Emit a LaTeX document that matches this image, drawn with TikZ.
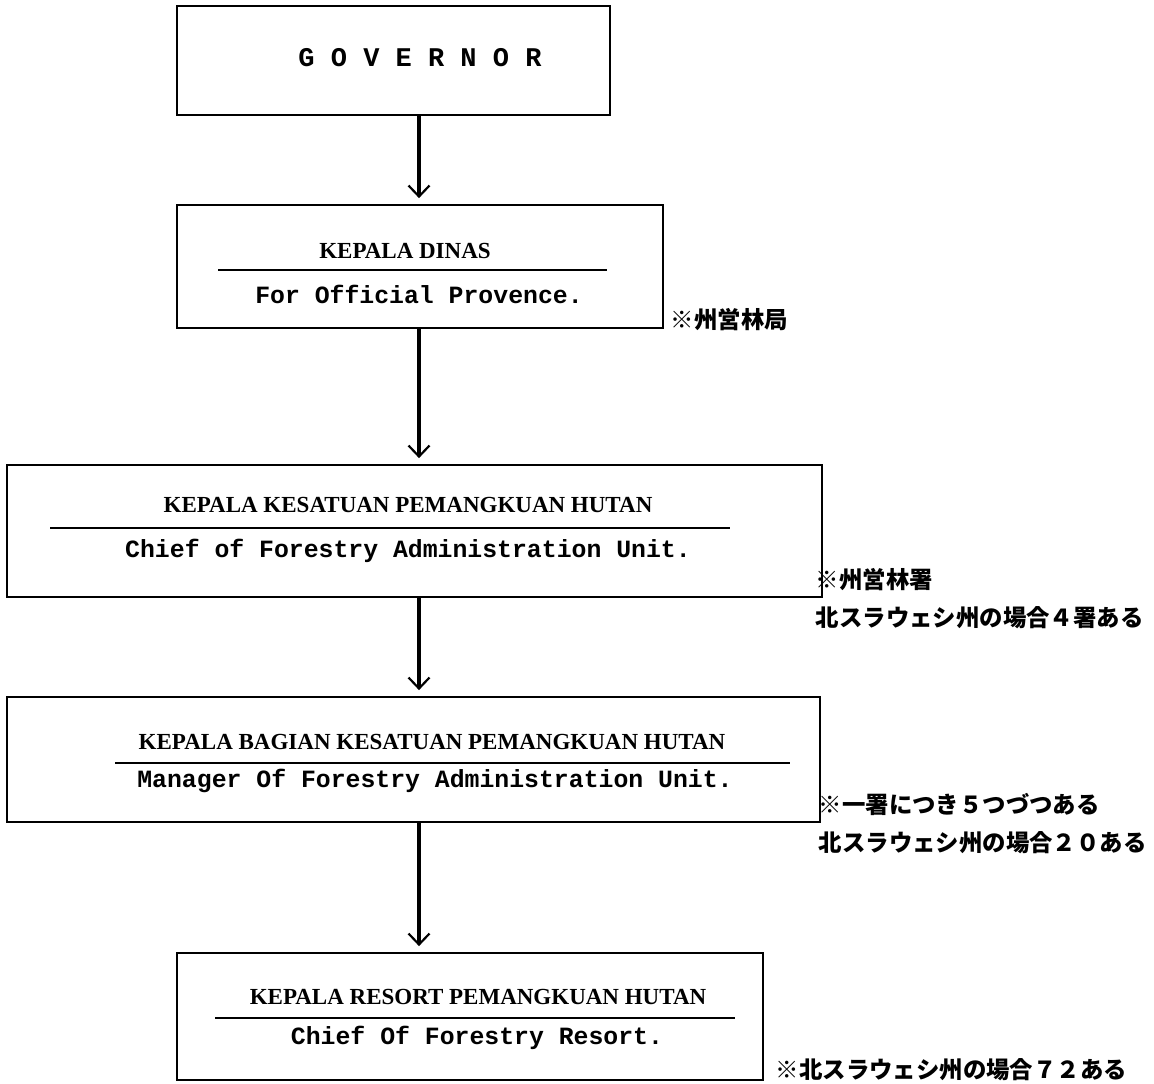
\documentclass[tikz,border=0pt]{standalone}
\usepackage{fontspec}
\setmainfont{Liberation Serif}
\setmonofont{Liberation Mono}
\newfontfamily\jpfont{Noto Sans CJK JP}
\usetikzlibrary{arrows.meta}

\begin{document}
\begin{tikzpicture}[x=1pt, y=-1pt, line width=1.6pt]
    \tikzstyle{post}=[draw, rectangle, inner sep=0pt, line width=1.8pt]
    \tikzstyle{title}=[inner sep=0pt, font=\fontsize{23}{26}\selectfont\bfseries]
    \tikzstyle{subtitle}=[inner sep=0pt, font=\fontsize{24.8}{28}\selectfont\ttfamily\bfseries]
    \tikzstyle{rule}=[line width=1.2pt]
    \tikzstyle{link}=[line width=3.2pt, -{Straight Barb[length=11pt,width=21pt,line width=2.2pt]}, shorten >=6pt]
    \tikzstyle{note}=[anchor=west, align=left, inner sep=0pt, font=\jpfont\bfseries\fontsize{23.4}{38}\selectfont]

    \useasboundingbox (0,0) rectangle (1154,1084);
    \coordinate (spine) at (419,0);

    % Posts
    \node[post, minimum width=433pt, minimum height=109pt] (gov) at (393.5,60.5) {};
    \node[post, minimum width=486pt, minimum height=123pt] (dinas) at (420,266.5) {};
    \node[post, minimum width=815pt, minimum height=132pt] (kph) at (414.5,531) {};
    \node[post, minimum width=813pt, minimum height=125pt] (bkph) at (413.5,759.5) {};
    \node[post, minimum width=586pt, minimum height=127pt] (rph) at (470,1016.5) {};

    % Governor
    \node[subtitle, font=\fontsize{27}{30}\selectfont\ttfamily\bfseries] (gov-t) at (420,58) {G O V E R N O R};

    % Kepala Dinas
    \node[title] (dinas-t) at (405,251) {KEPALA DINAS};
    \coordinate (dinas-a) at (218,270);
    \coordinate (dinas-b) at (607,270);
    \draw[rule] (dinas-a) -- (dinas-b);
    \node[subtitle] (dinas-s) at (419,294) {For Official Provence.};

    % KPH
    \node[title] (kph-t) at (408,505) {KEPALA KESATUAN PEMANGKUAN HUTAN};
    \coordinate (kph-a) at (50,528);
    \coordinate (kph-b) at (730,528);
    \draw[rule] (kph-a) -- (kph-b);
    \node[subtitle] (kph-s) at (408,551) {Chief of Forestry Administration Unit.};

    % BKPH
    \node[title] (bkph-t) at (432,742) {KEPALA BAGIAN KESATUAN PEMANGKUAN HUTAN};
    \coordinate (bkph-a) at (115,763);
    \coordinate (bkph-b) at (790,763);
    \draw[rule] (bkph-a) -- (bkph-b);
    \node[subtitle] (bkph-s) at (435,781) {Manager Of Forestry Administration Unit.};

    % RPH
    \node[title] (rph-t) at (478,997) {KEPALA RESORT PEMANGKUAN HUTAN};
    \coordinate (rph-a) at (215,1018);
    \coordinate (rph-b) at (735,1018);
    \draw[rule] (rph-a) -- (rph-b);
    \node[subtitle] (rph-s) at (477,1038) {Chief Of Forestry Resort.};

    % Connect the posts
    \draw[link] (gov.south -| spine) -- (dinas.north -| spine);
    \draw[link] (dinas.south -| spine) -- (kph.north -| spine);
    \draw[link] (kph.south -| spine) -- (bkph.north -| spine);
    \draw[link] (bkph.south -| spine) -- (rph.north -| spine);

    % Notes
    \node[note] (n-dinas) at (670,320) {※州営林局};
    \node[note] (n-kph) at (815,599) {※州営林署\\北スラウェシ州の場合４署ある};
    \node[note] (n-bkph) at (818,824) {※一署につき５つづつある\\北スラウェシ州の場合２０ある};
    \node[note] (n-rph) at (775,1070) {※北スラウェシ州の場合７２ある};
\end{tikzpicture}
\end{document}
